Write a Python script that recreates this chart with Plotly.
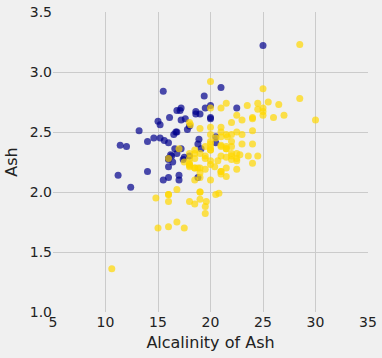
import plotly.graph_objects as go

# Wine dataset: class 1 (blue) vs classes 2 & 3 (gold)
alc_class1 = [15.6, 11.2, 18.6, 16.8, 21, 15.2, 14.6, 17.6, 14, 16, 18, 16.8, 16, 11.4, 12,
              17.2, 20, 20, 16.5, 15.2, 16, 18.6, 16.6, 17.8, 20, 25, 16.1, 17, 19.4, 16,
              22.5, 19.1, 17.2, 19.5, 19, 20.5, 15.5, 18, 15.5, 13.2, 16.2, 18.8, 15, 17.5,
              17, 18.9, 16, 16, 18.8, 17.4, 12.4, 17.2, 14, 17.1, 16.4, 20.5, 16.3, 16.8, 16.7]
ash_class1 = [2.43, 2.14, 2.67, 2.5, 2.87, 2.45, 2.45, 2.61, 2.17, 2.27, 2.3, 2.32, 2.41, 2.39, 2.38,
              2.7, 2.72, 2.62, 2.48, 2.56, 2.28, 2.65, 2.36, 2.52, 2.61, 3.22, 2.62, 2.14, 2.8, 2.21,
              2.7, 2.36, 2.36, 2.7, 2.65, 2.41, 2.84, 2.55, 2.1, 2.51, 2.31, 2.12, 2.59, 2.29,
              2.1, 2.44, 2.28, 2.12, 2.4, 2.27, 2.04, 2.6, 2.42, 2.68, 2.25, 2.46, 2.3, 2.68, 2.5]

alc_other = [10.6, 16, 16.8, 18, 19, 19, 18.1, 15, 19.6, 17, 16.8, 20.4, 25, 24, 30, 21, 16, 16,
             18, 14.8, 23, 19, 18.8, 24, 22.5, 18, 18, 22.8, 26, 21.6, 23.6, 18.5, 22, 20.7, 18,
             18, 19, 21.5, 16, 18.5, 18, 17.5, 18.5, 21, 19.5, 20.5, 22, 19, 22.5, 19, 20, 19.5,
             21, 20, 21, 22.5, 21.5, 20.8, 22.5, 16, 19, 20, 28.5, 26.5, 21.5, 21, 21, 21.5, 28.5,
             24.5, 22,
             18, 20, 24, 21.5, 17.5, 18.5, 21, 25, 19.5, 24, 21, 20, 23.5, 20, 18.5, 21, 20, 21.5,
             21.5, 21.5, 24, 22, 25.5, 18.5, 20, 22, 19.5, 27, 25, 22.5, 21, 20, 22, 18.5, 22, 22.5,
             23, 19.5, 24.5, 25, 19, 19.5, 20, 20.5, 23, 20, 20, 24.5]
ash_other = [1.36, 2.28, 2.02, 1.92, 2.16, 2.53, 2.56, 1.7, 1.92, 2.36, 1.75, 2.21, 2.67, 2.24, 2.6,
             2.3, 1.92, 1.71, 2.23, 1.95, 2.4, 2, 2.2, 2.51, 2.32, 2.58, 2.24, 2.31, 2.62, 2.46,
             2.3, 2.32, 2.42, 2.26, 2.22, 2.28, 2.2, 2.74, 1.98, 2.1, 2.21, 1.7, 1.9, 2.46, 1.88,
             1.98, 2.27, 2.12, 2.28, 1.94, 2.7, 1.82, 2.17, 2.92, 2.5, 2.5, 2.2, 1.99, 2.19, 1.98,
             2, 2.42, 3.23, 2.73, 2.13, 2.39, 2.17, 2.29, 2.78, 2.3, 2.38,
             2.32, 2.4, 2.4, 2.36, 2.25, 2.2, 2.54, 2.64, 2.19, 2.61, 2.7, 2.35, 2.72, 2.35, 2.2,
             2.15, 2.23, 2.48, 2.38, 2.36, 2.62, 2.48, 2.75, 2.28, 2.1, 2.32, 2.38, 2.64, 2.7, 2.64,
             2.38, 2.54, 2.58, 2.35, 2.3, 2.26, 2.6, 2.3, 2.69, 2.86, 2.32, 2.28, 2.48, 2.45, 2.48,
             2.26, 2.37, 2.74]

x_ticks = [5, 10, 15, 20, 25, 30, 35]
y_ticks = [1.0, 1.5, 2.0, 2.5, 3.0, 3.5]

fig = go.Figure()
fig.add_trace(go.Scatter(x=alc_class1, y=ash_class1, mode="markers",
                         marker=dict(color="darkblue", size=7, opacity=0.7, line=dict(width=0)),
                         showlegend=False))
fig.add_trace(go.Scatter(x=alc_other, y=ash_other, mode="markers",
                         marker=dict(color="gold", size=7, opacity=0.7, line=dict(width=0)),
                         showlegend=False))

axis_common = dict(showgrid=True, gridcolor="#cbcbcb", gridwidth=1, zeroline=False,
                   showline=False, ticks="", automargin=False, ticklabeloverflow="allow",
                   tickfont=dict(family="DejaVu Sans", size=14, color="#222222"),
                   title_font=dict(family="DejaVu Sans", size=16, color="#222222"))

fig.update_layout(
    width=382, height=358,
    margin=dict(l=53, r=14, t=12, b=46),
    paper_bgcolor="#f0f0f0", plot_bgcolor="#f0f0f0",
    font=dict(family="DejaVu Sans", color="#222222"),
    xaxis=dict(range=[5, 35], tickvals=x_ticks, ticktext=[str(v) for v in x_ticks],
               title=dict(text="Alcalinity of Ash", standoff=7), **axis_common),
    yaxis=dict(range=[1.0, 3.5], tickvals=y_ticks, ticktext=[f"{v:.1f}" for v in y_ticks],
               title=dict(text="Ash", standoff=8), **axis_common),
)

fig.write_html("out.html", config={"displayModeBar": False},
               post_script="document.body.style.margin='0';document.body.style.background='#f0f0f0';")
